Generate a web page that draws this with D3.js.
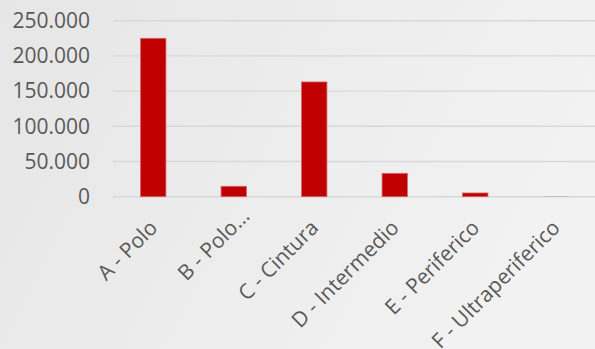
<!DOCTYPE html>
<html><head><meta charset="utf-8">
<script src="https://cdn.jsdelivr.net/npm/d3@7"></script>
<style>html,body{margin:0;padding:0;overflow:hidden}svg{display:block}</style>
</head><body>
<script>
const categories = ["A - Polo", "B - Polo…", "C - Cintura", "D - Intermedio", "E - Periferico", "F - Ultraperiferico"];
const values = [225000, 14800, 163000, 33200, 5300, 200];
const yTicks = [0, 50000, 100000, 150000, 200000, 250000];
const yTickLabels = ["0", "50.000", "100.000", "150.000", "200.000", "250.000"];

const W = 595, H = 349;
const svg = d3.select("body").append("svg").attr("width", W).attr("height", H);
const defs = svg.append("defs");
const grad = defs.append("linearGradient").attr("id", "bg").attr("x1", 0).attr("y1", 0).attr("x2", 1).attr("y2", 0.3);
grad.append("stop").attr("offset", 0).attr("stop-color", "#e6e6e6");
grad.append("stop").attr("offset", 1).attr("stop-color", "#f2f2f2");
svg.append("rect").attr("width", W).attr("height", H).attr("fill", "url(#bg)");

const x = d3.scaleBand().domain(categories).range([113, 596]).paddingInner(0.685).paddingOuter(0.3425);
const y = d3.scaleLinear().domain([0, 250000]).range([196.7, 20.7]);

const font = "'Open Sans', 'Noto Sans', sans-serif";

// gridlines
svg.append("g").selectAll("line").data(yTicks).join("line")
  .attr("x1", 113).attr("x2", W).attr("y1", d => y(d)).attr("y2", d => y(d))
  .attr("stroke", "#d8d8d8").attr("stroke-width", 1.4);

// y axis labels
const yAxis = d3.axisLeft(y).tickValues(yTicks).tickSize(0).tickPadding(0)
  .tickFormat((d, i) => yTickLabels[i]);
const gy = svg.append("g").attr("transform", "translate(90,0)").call(yAxis);
gy.select(".domain").remove();
gy.selectAll("text").attr("font-family", font).attr("font-size", "21px").attr("fill", "#595959");

// bars
svg.append("g").selectAll("rect").data(values).join("rect")
  .attr("x", (d, i) => x(categories[i]))
  .attr("width", x.bandwidth())
  .attr("y", d => y(d))
  .attr("height", d => y(0) - y(d))
  .attr("fill", "#c00000")
  .attr("stroke", "#d46a6a").attr("stroke-width", d => d > 1000 ? 0.8 : 0);

// x labels
const gx = svg.append("g");
categories.forEach((c, i) => {
  const cx = x(c) + x.bandwidth() / 2 + 5.5;
  const cyy = 229;
  const g = gx.append("g").attr("transform", `translate(${cx},${cyy}) rotate(-45)`);
  const hasEll = c.endsWith("…");
  const main = hasEll ? c.slice(0, -1) : c;
  g.append("text").attr("text-anchor", "end").attr("font-family", font)
    .attr("font-size", "21px").attr("fill", "#595959").text(main);
  if (hasEll) {
    g.append("text").attr("text-anchor", "start").attr("font-family", font)
      .attr("font-size", "21px").attr("fill", "#595959").text("…");
  }
});
</script>
</body></html>
